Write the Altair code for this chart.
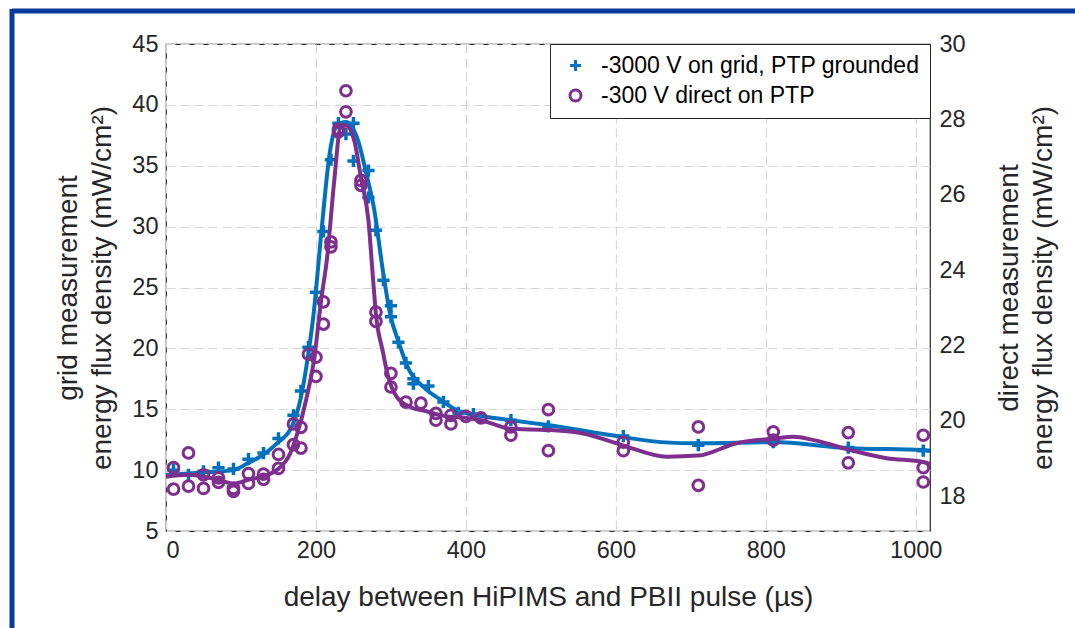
import altair as alt
import pandas as pd

# ---------------- data ----------------
# grid measurement (left axis), '+' markers
blue_x = [10, 30, 50, 70, 90, 110, 130, 150, 170, 180, 190, 200, 210, 220, 230,
          240, 250, 250, 270, 270, 280, 290, 300, 300, 310, 320, 330, 330, 350, 370,
          390, 410, 460, 510, 610, 710, 810, 910, 1010]
blue_y = [10.0, 9.6, 9.9, 10.2, 10.1, 10.9, 11.4, 12.6, 14.5, 16.5, 20.1, 24.6, 29.6, 35.5, 38.5,
          37.6, 38.5, 35.4, 34.6, 32.4, 29.7, 25.6, 23.5, 22.6, 20.5, 18.8, 17.5, 17.1, 16.9, 15.6,
          14.7, 14.6, 14.1, 13.6, 12.8, 12.05, 12.3, 11.85, 11.6]

# smoothed fit of the grid measurement (left axis)
blue_fit_x = [0, 50, 90, 110, 128, 148, 168, 180, 188, 197, 207, 219, 227, 240, 256,
              267, 278, 289, 299, 311, 322, 344, 367, 389, 411, 460, 509, 608, 660, 711,
              809, 910, 1010, 1019]
blue_fit_y = [9.6, 9.8, 10.0, 10.6, 11.2, 12.2, 13.6, 16.0, 18.8, 22.9, 29.4, 36.3, 38.2, 38.6, 37.1,
              34.4, 31.3, 26.5, 22.8, 20.4, 18.5, 16.8, 15.75, 14.9, 14.55, 14.1, 13.7, 12.73, 12.3, 12.2,
              12.3, 11.8, 11.65, 11.6]

# direct measurement (right axis), 'o' markers
purple_x = [10, 10, 30, 30, 50, 50, 70, 70, 90, 90, 110, 110, 130, 130, 150, 150, 170, 170, 180, 180,
            190, 200, 200, 210, 210, 220, 220, 230, 230, 240, 240, 260, 260, 280, 280, 300, 300, 320, 340, 360,
            360, 380, 380, 400, 420, 460, 460, 510, 510, 610, 610, 710, 710, 810, 810, 910, 910, 1010, 1010, 1010]
purple_y = [18.76, 18.19, 19.15, 18.27, 18.57, 18.21, 18.49, 18.37, 18.13, 18.21, 18.60, 18.34, 18.59, 18.45, 19.11, 18.74, 19.92, 19.37, 19.83, 19.28,
            21.77, 21.69, 21.18, 23.16, 22.57, 24.75, 24.62, 27.67, 27.74, 28.76, 28.20, 26.38, 26.25, 22.89, 22.64, 21.26, 20.90, 20.50, 20.47, 20.20,
            20.02, 20.15, 19.92, 20.12, 20.08, 19.84, 19.62, 20.30, 19.21, 19.44, 19.21, 19.84, 18.29, 19.71, 19.49, 19.69, 18.89, 19.62, 18.76, 18.38]

# smoothed fit of the direct measurement (right axis)
purple_fit_x = [0, 30, 50, 70, 90, 110, 130, 150, 165, 175, 187, 198, 207, 215, 224,
                233, 240, 251, 260, 270, 276, 280, 289, 295, 308, 326, 348, 375, 401, 420,
                460, 510, 558, 608, 668, 710, 761, 810, 837, 864, 910, 961, 1010, 1019]
purple_fit_y = [18.52, 18.57, 18.52, 18.44, 18.34, 18.44, 18.53, 18.73, 19.11, 19.66, 20.57, 21.70, 23.22, 24.35, 26.29,
                27.80, 27.84, 27.45, 26.45, 25.32, 23.80, 22.83, 21.86, 21.28, 20.63, 20.37, 20.25, 20.12, 20.08, 20.02,
                19.79, 19.76, 19.66, 19.36, 19.05, 19.08, 19.41, 19.53, 19.58, 19.49, 19.24, 19.01, 18.91, 18.86]

series_names = ["-3000 V on grid, PTP grounded", "-300 V direct on PTP"]
series_colors = ["#0072BD", "#7E2F8E"]
plus_path = "M-1,0H1M0,-1V1"
series_shapes = [plus_path, "circle"]

x_ticks = [0, 200, 400, 600, 800, 1000]
left_ticks = [5, 10, 15, 20, 25, 30, 35, 40, 45]
right_ticks = [18, 20, 22, 24, 26, 28, 30]

# ---------------- frames ----------------
blue_pts = pd.DataFrame({"x": blue_x, "y": blue_y, "series": series_names[0]})
blue_fit = pd.DataFrame({"x": blue_fit_x, "y": blue_fit_y})
purple_pts = pd.DataFrame({"x": purple_x, "y": purple_y, "series": series_names[1]})
purple_fit = pd.DataFrame({"x": purple_fit_x, "y": purple_fit_y})

FONT = "Liberation Sans"
TXT = "#262626"
W, H = 764, 487
PAD_L, PAD_T, PAD_R, PAD_B = 166, 44, 1075 - 166 - W, 628 - 44 - H

x_scale = alt.Scale(domain=[0, 1019], nice=False, zero=False)
x_axis = alt.Axis(values=x_ticks, format="d", title="delay between HiPIMS and PBII pulse (µs)",
                  grid=True, gridDash=[9, 5], gridColor="#d6d6d6", gridWidth=1.2,
                  ticks=False, domain=False, labelPadding=7, titlePadding=22)
left_scale = alt.Scale(domain=[5, 45], nice=False, zero=False)
left_axis = alt.Axis(values=left_ticks, title=["grid measurement", "energy flux density (mW/cm²)"],
                     grid=True, gridDash=[9, 5], gridColor="#d6d6d6", gridWidth=1.2,
                     ticks=False, domain=False, labelPadding=8, titlePadding=15,
                     orient="left")
right_scale = alt.Scale(domain=[17.08, 30], nice=False, zero=False)
right_axis = alt.Axis(values=right_ticks, title=["direct measurement", "energy flux density (mW/cm²)"],
                      grid=False, ticks=False, domain=False, labelPadding=9, titlePadding=24,
                      orient="right", titleAngle=270)

color_scale = alt.Scale(domain=series_names, range=series_colors)
shape_scale = alt.Scale(domain=series_names, range=series_shapes)
legend = alt.Legend(title=None, orient="top-right", offset=0)

blue_line = alt.Chart(blue_fit).mark_line(color=series_colors[0], strokeWidth=4,
                                           interpolate="monotone").encode(
    x=alt.X("x:Q", scale=x_scale, axis=x_axis),
    y=alt.Y("y:Q", scale=left_scale, axis=left_axis),
)
blue_points = alt.Chart(blue_pts).mark_point(filled=False, strokeWidth=3.5, size=150, opacity=1).encode(
    x=alt.X("x:Q", scale=x_scale),
    y=alt.Y("y:Q", scale=left_scale),
    color=alt.Color("series:N", scale=color_scale, legend=legend),
    shape=alt.Shape("series:N", scale=shape_scale, legend=legend),
)
left_layer = alt.layer(blue_line, blue_points)

purple_line = alt.Chart(purple_fit).mark_line(color=series_colors[1], strokeWidth=4,
                                               interpolate="monotone").encode(
    x=alt.X("x:Q", scale=x_scale),
    y=alt.Y("y:Q", scale=right_scale, axis=right_axis),
)
purple_points = alt.Chart(purple_pts).mark_point(filled=False, strokeWidth=3, size=115, opacity=1).encode(
    x=alt.X("x:Q", scale=x_scale),
    y=alt.Y("y:Q", scale=right_scale),
    color=alt.Color("series:N", scale=color_scale, legend=legend),
    shape=alt.Shape("series:N", scale=shape_scale, legend=legend),
)
# decorative frame (blue border of the figure panel)
frame_top = alt.Chart(pd.DataFrame({"a": [0]})).mark_rule(color="#0a3a9c", strokeWidth=5).encode(
    x=alt.value(-154), x2=alt.value(1075 - PAD_L), y=alt.value(-33))
frame_left = alt.Chart(pd.DataFrame({"a": [0]})).mark_rule(color="#0a3a9c", strokeWidth=5).encode(
    x=alt.value(-154), y=alt.value(-35), y2=alt.value(628 - PAD_T))
right_layer = alt.layer(purple_line, purple_points, frame_top, frame_left)

chart = alt.layer(left_layer, right_layer).resolve_scale(
    y="independent", color="shared", shape="shared"
).properties(
    width=W, height=H,
    autosize=alt.AutoSizeParams(type="none"),
    padding={"left": PAD_L, "top": PAD_T, "right": PAD_R, "bottom": PAD_B},
    background="white",
).configure_view(
    stroke="#262626", strokeWidth=1.2
).configure_axis(
    labelFont=FONT, titleFont=FONT, labelFontSize=23.5, titleFontSize=28,
    labelColor=TXT, titleColor=TXT, titleFontWeight="normal", titleLineHeight=34,
).configure_legend(
    labelFont=FONT, labelFontSize=23, labelColor="#000000",
    fillColor="white", strokeColor="#262626", strokeWidth=1,
    padding=10, rowPadding=6, symbolSize=120, symbolStrokeWidth=3,
    labelLimit=420, symbolOffset=4, labelOffset=14,
)

chart.save("out.html", embed_options={"renderer": "svg", "actions": False})
